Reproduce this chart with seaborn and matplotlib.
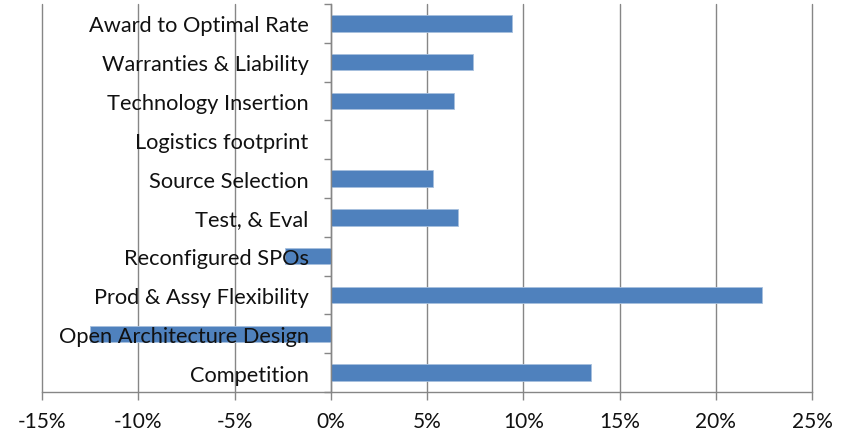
import matplotlib
matplotlib.use("Agg")
import matplotlib.pyplot as plt
import seaborn as sns
import pandas as pd
import numpy as np
from matplotlib.ticker import FuncFormatter, FixedLocator

categories = [
    "Award to Optimal Rate",
    "Warranties & Liability",
    "Technology Insertion",
    "Logistics footprint",
    "Source Selection",
    "Test, & Eval",
    "Reconfigured SPOs",
    "Prod & Assy Flexibility",
    "Open Architecture Design",
    "Competition",
]
values_pct = [9.4, 7.4, 6.4, 0.0, 5.3, 6.6, -2.4, 22.4, -12.5, 13.5]
x_ticks = [-15, -10, -5, 0, 5, 10, 15, 20, 25]

df = pd.DataFrame({"category": categories, "value": values_pct})

sns.set_theme(style="white")
plt.rcParams["font.family"] = ["Lato", "DejaVu Sans"]

grey = "#868686"
bar_color = "#4F81BD"

fig = plt.figure(figsize=(8.47, 4.35), dpi=100)
ax = fig.add_axes([42 / 847, 1 - 393 / 435, (812 - 42) / 847, (393 - 5) / 435])

sns.barplot(data=df, x="value", y="category", orient="h", color=bar_color,
            width=0.42, saturation=1, edgecolor="#A7C0DE", linewidth=0.6, ax=ax)

ax.set_xlim(x_ticks[0], x_ticks[-1])
ax.set_ylim(len(categories) - 0.5, -0.5)
ax.set_xlabel("")
ax.set_ylabel("")

# vertical gridlines behind the bars
ax.xaxis.set_major_locator(FixedLocator(x_ticks))
ax.xaxis.set_major_formatter(FuncFormatter(lambda v, _: f"{v:.0f}%"))
ax.grid(axis="x", color=grey, linewidth=1.0, clip_on=False)
ax.grid(axis="y", visible=False)
ax.xaxis.set_zorder(0.5)
ax.yaxis.set_zorder(3)

# category axis sits on zero, ticks between categories
ax.spines["left"].set_position(("data", 0))
for s in ["top", "right"]:
    ax.spines[s].set_visible(False)
ax.spines["left"].set_color(grey)
ax.spines["bottom"].set_color(grey)
ax.spines["left"].set_linewidth(1.0)
ax.spines["bottom"].set_linewidth(1.0)
ax.spines["left"].set_zorder(3)

ax.yaxis.set_minor_locator(FixedLocator(np.arange(-0.5, len(categories), 1.0)))
ax.tick_params(axis="y", which="major", length=0, pad=16, labelsize=15.7,
               labelcolor="#111111")
ax.tick_params(axis="y", which="minor", length=5, width=1.0, color=grey,
               direction="out")
ax.tick_params(axis="x", which="major", length=6, width=1.0, color=grey,
               direction="out", pad=8, labelsize=15, labelcolor="#111111")
ax.tick_params(bottom=True, left=True)
ax.tick_params(axis="y", which="minor", left=True)

fig.savefig("out.png", dpi=100)
